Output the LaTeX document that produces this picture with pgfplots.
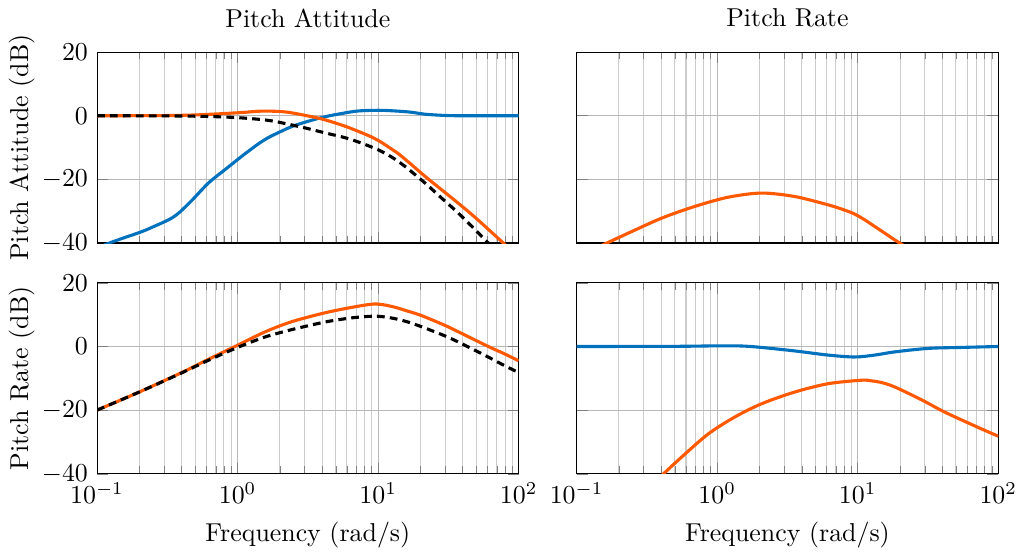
\documentclass[border=0pt]{standalone}
\usepackage{pgfplots}
\pgfplotsset{compat=1.18}
\usepgfplotslibrary{groupplots}
\definecolor{cblue}{RGB}{0,114,189}
\definecolor{corange}{RGB}{255,89,0}
\begin{document}
\begin{tikzpicture}
\begin{groupplot}[
  group style={group size=2 by 2, horizontal sep=22.4pt, vertical sep=15.4pt,
    xticklabels at=edge bottom, yticklabels at=edge left},
  scale only axis, width=163pt, height=73.8pt,
  xmode=log, xmin=0.1, xmax=100, ymin=-40, ymax=20,
  ytick={-40,-20,0,20},
  grid=both,
  major grid style={thin, black!28},
  minor grid style={thin, black!20},
  ylabel shift=-4pt,
  xticklabel style={inner xsep=0pt},
  every axis plot/.append style={line width=1.2pt, smooth},
]
\nextgroupplot[title={Pitch Attitude}, ylabel={Pitch Attitude (dB)}]
\addplot[cblue] coordinates {
(0.1,-41.6)(0.121,-40.1)(0.15,-38.6)(0.209,-36.4)(0.26,-34.6)(0.306,-33.2)(0.345,-32.0)(0.39,-30.2)
(0.473,-26.6)(0.622,-21.1)(0.816,-16.9)(1.074,-12.7)(1.25,-10.5)(1.41,-8.8)(1.62,-7.1)(1.85,-5.8)(2.43,-3.4)
(3.2,-1.7)(4.2,-0.3)(5.5,0.7)(7.24,1.5)(10.6,1.7)(16.4,1.2)(21.4,0.5)(28,0.15)(37.2,0)(100,0)};
\addplot[corange] coordinates {
(0.1,0)(0.3,0.05)(0.5,0.25)(0.7,0.55)(1.07,1.0)(1.49,1.45)(2.18,1.2)(3.2,-0.1)(4.2,-1.3)
(5.82,-3.3)(7.5,-5.2)(9,-6.7)(10.5,-8.3)(12,-10.0)(13.9,-11.9)(17,-15.1)(21.5,-19)(28,-23.1)(37.2,-27.5)
(50,-32.3)(80,-40.5)(100,-44.4)};
\addplot[black, dash pattern=on 3pt off 2pt] coordinates {
(0.1,0)(0.3,-0.05)(0.5,-0.15)(0.7,-0.3)(1.0,-0.6)(1.4,-1.1)(1.85,-1.8)(3.0,-3.8)(4.2,-5.4)
(5.82,-6.9)(7.5,-8.5)(10,-10.7)(12.5,-13.0)(15.5,-15.9)(21.5,-21.1)(28,-25.7)(37.2,-30.6)
(50,-36.2)(60.8,-40)(80,-44.5)};
\nextgroupplot[title={Pitch Rate}]
\addplot[corange] coordinates {
(0.1,-44.4)(0.159,-40.3)(0.233,-36.9)(0.402,-32.2)(0.693,-28.5)(1.197,-25.6)(2.07,-24.3)
(3.57,-25.4)(6.15,-28.0)(8,-29.6)(9.5,-30.9)(11.2,-32.7)(13.2,-34.8)(15.7,-37.0)(18.3,-39.0)(20.4,-40.3)(25,-42.9)};
\nextgroupplot[ylabel={Pitch Rate (dB)}, xlabel={Frequency (rad/s)}]
\addplot[corange] coordinates {
(0.1,-20)(0.2,-14.3)(0.4,-8.2)(0.622,-4.0)(1.0,0.4)(1.57,4.6)(2.43,7.8)(4.2,10.6)(6.5,12.3)
(9.0,13.3)(10.6,13.2)(13,12.4)(16,11.2)(20.4,9.7)(30,6.6)(39.3,4.1)(60.8,0)(80,-2.4)(100,-4.5)};
\addplot[black, dash pattern=on 3pt off 2pt] coordinates {
(0.1,-20)(0.2,-14.3)(0.4,-8.3)(0.622,-4.3)(1.0,-0.3)(1.57,3.0)(2.43,5.3)(4.2,7.7)(6.5,9.0)
(9.0,9.5)(10.6,9.4)(13,8.8)(16,7.8)(20.4,6.2)(30,3.3)(39.3,0.9)(60,-3.2)(80,-6.1)(100,-8.2)};
\nextgroupplot[xlabel={Frequency (rad/s)}]
\addplot[cblue] coordinates {
(0.1,0)(0.5,0.05)(1.0,0.2)(1.5,0.15)(2.07,-0.3)(3.57,-1.4)(6.15,-2.7)(9.5,-3.3)(13.2,-2.7)
(18.3,-1.7)(31.6,-0.6)(54,-0.3)(100,0)};
\addplot[corange] coordinates {
(0.35,-43.0)(0.413,-40.1)(0.557,-34.8)(0.863,-27.5)(1.33,-22.2)(2.07,-18.0)(3.57,-14.3)
(6.15,-11.7)(10.6,-10.6)(12.5,-10.8)(14.7,-11.3)(18.3,-12.7)(28.3,-16.7)(41.5,-20.6)(71.6,-25.4)(100,-28.2)};
\end{groupplot}
\end{tikzpicture}
\end{document}
